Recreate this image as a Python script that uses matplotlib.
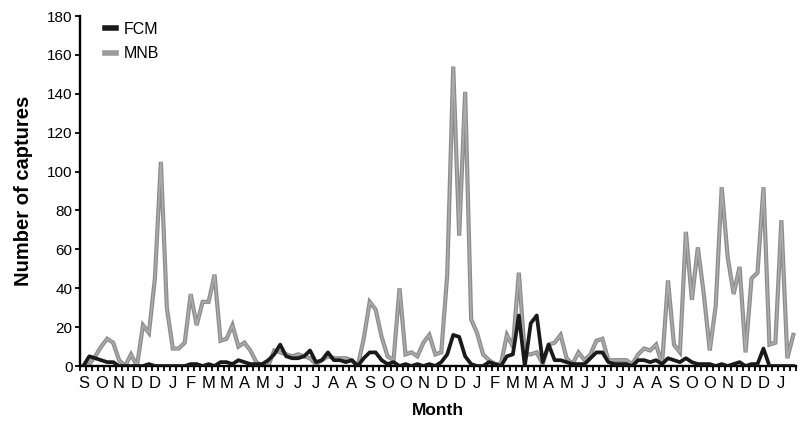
import numpy as np
import matplotlib.pyplot as plt
from matplotlib.ticker import FixedLocator

plt.rcParams['font.family'] = ['Liberation Sans', 'DejaVu Sans']

# weekly captures, one value per week starting in September
fcm = [0, 5, 4, 3, 2, 2, 0, 0, 0, 0,
       0, 1, 0, 0, 0, 0, 0, 0, 1, 1,
       0, 1, 0, 2, 2, 1, 3, 2, 1, 1,
       1, 3, 6, 11, 5, 4, 4, 5, 8, 2,
       3, 7, 3, 3, 2, 3, 0, 4, 7, 7,
       3, 1, 2, 0, 1, 0, 1, 0, 1, 0,
       2, 6, 16, 15, 5, 1, 0, 0, 2, 1,
       0, 5, 6, 26, 0, 22, 26, 2, 11, 3,
       3, 2, 1, 1, 1, 4, 7, 7, 2, 1,
       1, 1, 0, 3, 3, 2, 3, 1, 4, 3,
       2, 4, 2, 1, 1, 1, 0, 1, 0, 1,
       2, 0, 1, 1, 9, 0, 0, 0, 0, 0]

mnb = [0, 1, 5, 10, 14, 12, 3, 0, 6, 0,
       21, 17, 45, 105, 30, 9, 9, 12, 37, 21,
       33, 33, 47, 13, 14, 21, 10, 12, 8, 2,
       0, 0, 8, 7, 6, 5, 6, 5, 4, 1,
       3, 5, 4, 4, 4, 3, 0, 14, 33, 29,
       15, 5, 3, 40, 6, 7, 5, 12, 16, 6,
       7, 47, 154, 67, 141, 24, 17, 6, 3, 1,
       1, 16, 10, 48, 6, 6, 7, 1, 11, 12,
       16, 4, 1, 7, 3, 6, 13, 14, 3, 3,
       3, 3, 1, 6, 9, 8, 11, 1, 44, 11,
       7, 69, 34, 61, 37, 8, 31, 92, 56, 37,
       51, 7, 45, 48, 92, 11, 12, 75, 4, 16]

# month initial shown under every third week
month_labels = ['S', 'O', 'N', 'D', 'D', 'J', 'F', 'M', 'M', 'A',
                'M', 'J', 'J', 'J', 'A', 'A', 'S', 'O', 'O', 'N',
                'D', 'D', 'J', 'F', 'M', 'M', 'A', 'M', 'J', 'J',
                'J', 'A', 'A', 'S', 'O', 'O', 'N', 'D', 'D', 'J']

weeks = np.arange(len(mnb))

fig = plt.figure(figsize=(8.04, 4.26), dpi=100)
ax = fig.add_axes([0.0999, 0.1408, 0.8905, 0.8216])

# grey line drawn twice to get the lighter core
ax.plot(weeks, mnb, color='#8c8c8c', lw=3.0, solid_joinstyle='miter', zorder=2)
ax.plot(weeks, mnb, color='#ababab', lw=1.2, solid_joinstyle='miter', zorder=2.1)
ax.plot(weeks, fcm, color='#1a1a1a', lw=2.7, zorder=3)

# legend proxies
ax.plot([], [], color='#1a1a1a', lw=4, label='FCM')
ax.plot([], [], color='#9a9a9a', lw=4, label='MNB')
handles, labels = ax.get_legend_handles_labels()
ax.legend(handles[-2:], labels[-2:], loc='upper left', bbox_to_anchor=(0.015, 1.025),
          frameon=False, fontsize=11.5, handlelength=0.65, handletextpad=0.5,
          labelspacing=0.6)

ax.set_xlim(-0.5, len(mnb) - 0.5)
ax.set_ylim(0, 180)
ax.set_yticks(np.arange(0, 181, 20))

ax.set_xticks(weeks[::3][:len(month_labels)])
ax.set_xticklabels(month_labels, fontsize=12)
ax.xaxis.set_minor_locator(FixedLocator(np.arange(-0.5, len(mnb), 1.0)))
ax.tick_params(axis='x', which='major', length=0, pad=7)
ax.tick_params(axis='x', which='minor', length=3.5, width=1.3, direction='out')
ax.tick_params(axis='y', labelsize=11, length=3.5, width=1.3, direction='out', pad=2)

for side in ['top', 'right']:
    ax.spines[side].set_visible(False)
for side in ['left', 'bottom']:
    ax.spines[side].set_linewidth(1.7)

ax.set_xlabel('Month', fontsize=12.5, fontweight='bold', labelpad=9)
ax.set_ylabel('Number of captures', fontsize=14.5, fontweight='bold', labelpad=10)

fig.savefig('out.png', dpi=100)
